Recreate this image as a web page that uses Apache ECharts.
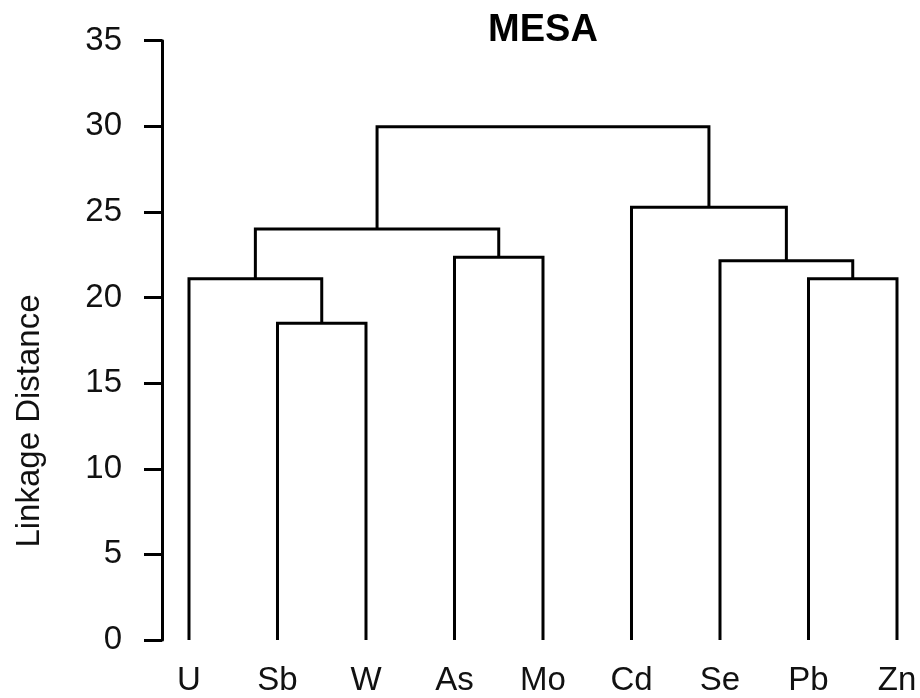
<!DOCTYPE html>
<html>
<head>
<meta charset="utf-8">
<title>MESA dendrogram</title>
<script src="https://cdn.jsdelivr.net/npm/echarts@6/dist/echarts.min.js"></script>
<style>
  html, body { margin: 0; padding: 0; background: #fff; }
  #chart { width: 920px; height: 698px; }
</style>
</head>
<body>
<div id="chart"></div>
<script>
// Leaf order along the x axis
var leaves = ['U', 'Sb', 'W', 'As', 'Mo', 'Cd', 'Se', 'Pb', 'Zn'];

// Merge steps (hclust style): negative = leaf index (1-based), positive = earlier merge step
var mergeLeft   = [-2, -1, -8, -7, -4, 2, -6, 6];
var mergeRight  = [-3,  1, -9,  3, -5, 5,  4, 7];
var mergeHeight = [18.5, 21.1, 21.1, 22.15, 22.35, 24.0, 25.27, 29.97];

// Y axis ticks
var yTicks = [0, 5, 10, 15, 20, 25, 30, 35];

var FONT = "'Liberation Sans', Arial, sans-serif";

// Resolve each merge into a bracket: [xLeft, hLeft, xRight, hRight, h]
var nodeX = [], nodeH = [];
function childPos(id) {
  if (id < 0) return [-id, 0];
  return [nodeX[id - 1], nodeH[id - 1]];
}
var brackets = [];
for (var i = 0; i < mergeHeight.length; i++) {
  var a = childPos(mergeLeft[i]);
  var b = childPos(mergeRight[i]);
  nodeX.push((a[0] + b[0]) / 2);
  nodeH.push(mergeHeight[i]);
  brackets.push([a[0], a[1], b[0], b[1], mergeHeight[i]]);
}

var chart = echarts.init(document.getElementById('chart'), null, { renderer: 'canvas' });

chart.setOption({
  backgroundColor: '#ffffff',
  animation: false,
  title: {
    text: 'MESA',
    left: 538,
    top: 7,
    textAlign: 'center',
    textStyle: { fontFamily: FONT, fontWeight: 'bold', fontSize: 38, color: '#000' }
  },
  grid: { left: 162, right: 5.3, top: 40.7, bottom: 58 },
  xAxis: {
    type: 'value',
    min: 0.695,
    max: 9.2,
    axisLine: { show: false },
    axisTick: { show: false },
    splitLine: { show: false },
    axisLabel: {
      customValues: leaves.map(function (_, k) { return k + 1; }),
      formatter: function (v) { return leaves[Math.round(v) - 1] || ''; },
      fontFamily: FONT,
      fontSize: 33,
      color: '#111',
      margin: 24
    }
  },
  yAxis: {
    type: 'value',
    min: 0,
    max: 35,
    interval: 5,
    axisLine: { show: true, lineStyle: { color: '#000', width: 3 } },
    axisTick: { show: true, length: 18, lineStyle: { color: '#000', width: 3 } },
    splitLine: { show: false },
    axisLabel: {
      fontFamily: FONT,
      fontSize: 33,
      color: '#111',
      margin: 40,
      customValues: yTicks
    }
  },
  graphic: [{
    type: 'text',
    x: 30,
    y: 421,
    rotation: Math.PI / 2,
    style: {
      text: 'Linkage Distance',
      fontFamily: FONT,
      fontSize: 33,
      fill: '#111',
      textAlign: 'center',
      textVerticalAlign: 'middle'
    }
  }],
  series: [{
    type: 'custom',
    coordinateSystem: 'cartesian2d',
    data: brackets,
    encode: { x: [0, 2], y: [1, 3, 4] },
    renderItem: function (params, api) {
      var p1 = api.coord([api.value(0), api.value(1)]);
      var p2 = api.coord([api.value(0), api.value(4)]);
      var p3 = api.coord([api.value(2), api.value(4)]);
      var p4 = api.coord([api.value(2), api.value(3)]);
      return {
        type: 'polyline',
        shape: { points: [p1, p2, p3, p4] },
        style: { stroke: '#000', lineWidth: 3, fill: null, lineJoin: 'miter', lineCap: 'butt' }
      };
    }
  }]
});
</script>
</body>
</html>
